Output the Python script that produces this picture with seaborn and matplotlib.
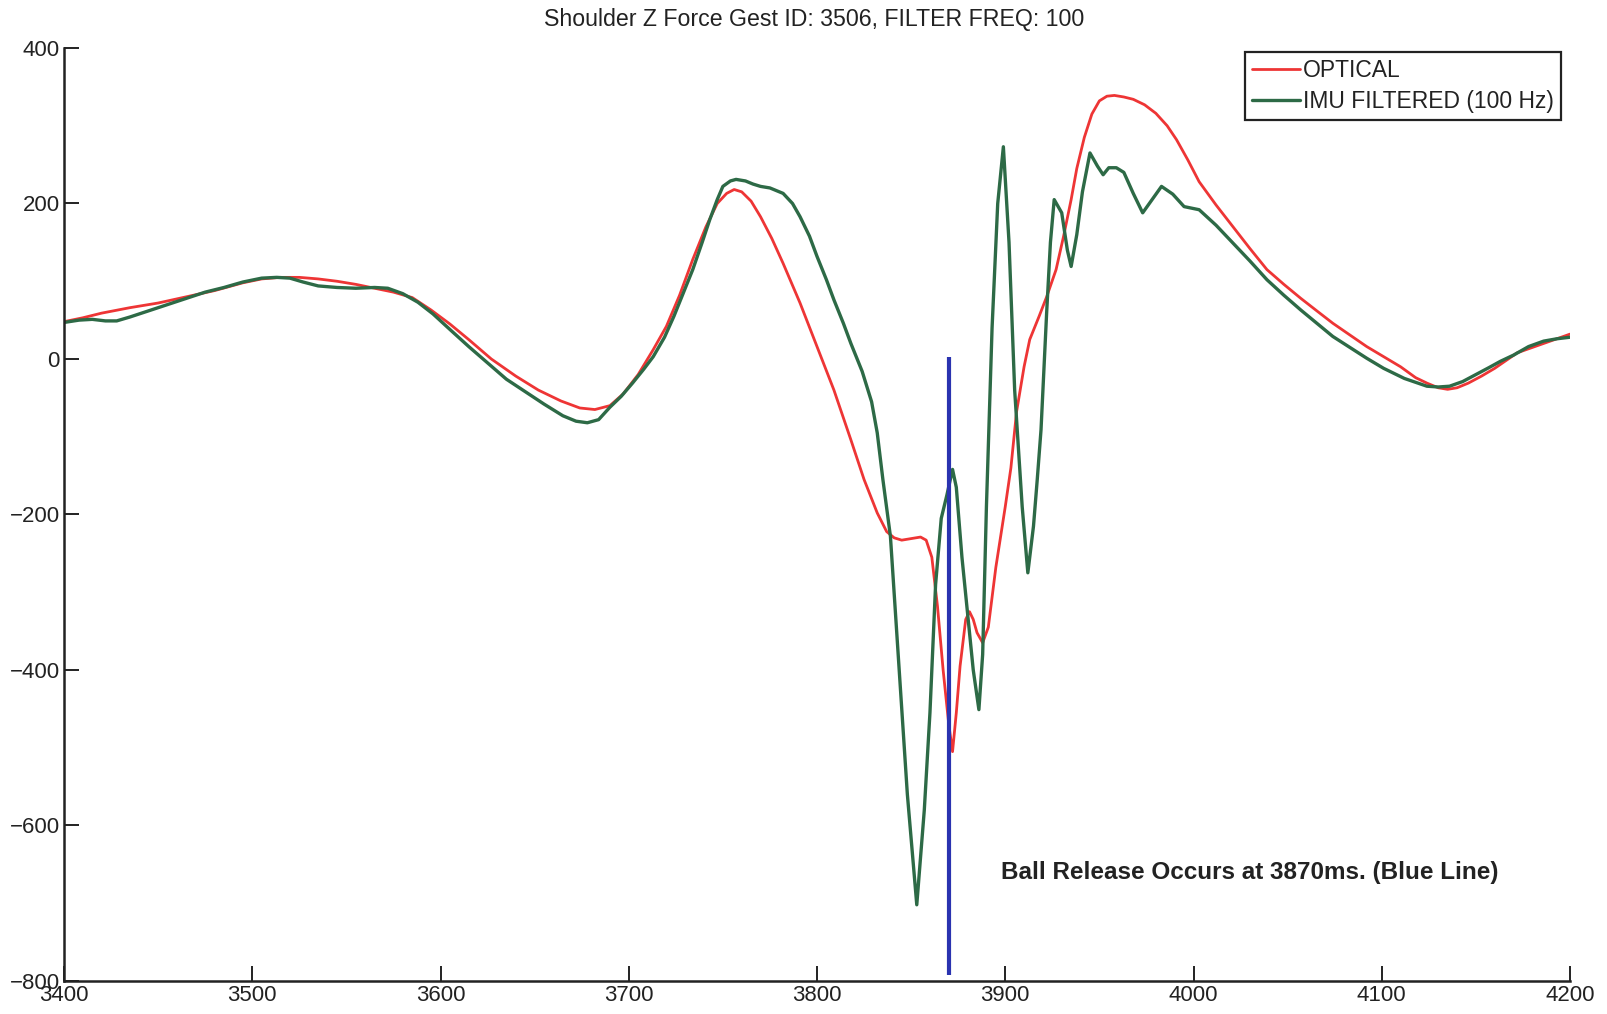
import matplotlib
matplotlib.use("Agg")
import matplotlib.pyplot as plt
import seaborn as sns

# ---- data -----------------------------------------------------------------
optical_t = [3400, 3410, 3420, 3435, 3450, 3465, 3480, 3495, 3505, 3515, 3525, 3535,
             3545, 3555, 3565, 3575, 3585, 3595, 3605, 3615, 3627, 3640, 3652, 3664,
             3674, 3682, 3690, 3697, 3705, 3713, 3720, 3727, 3734, 3741, 3747, 3752,
             3756, 3760, 3765, 3770, 3776, 3782, 3791, 3800, 3809, 3818, 3825, 3832,
             3837, 3841, 3845, 3850, 3855, 3858, 3861, 3864, 3867, 3870, 3872, 3874,
             3876, 3879, 3881, 3883, 3885, 3888, 3891, 3895, 3900, 3903, 3906, 3910,
             3913, 3918, 3922, 3927, 3931, 3935, 3938, 3942, 3946, 3950, 3954, 3958,
             3963, 3968, 3974, 3980, 3986, 3991, 3997, 4003, 4012, 4021, 4030, 4039,
             4048, 4057, 4066, 4074, 4083, 4092, 4101, 4110, 4118, 4124, 4130, 4135,
             4140, 4146, 4153, 4160, 4166, 4172, 4179, 4186, 4193, 4200]
optical_f = [48, 53, 59, 66, 72, 80, 88, 98, 103, 105, 105, 103,
             100, 96, 91, 86, 79, 63, 45, 25, 0, -22, -40, -54,
             -63, -65, -60, -45, -20, 12, 42, 82, 128, 170, 200, 213,
             218, 215, 203, 183, 155, 123, 72, 16, -40, -104, -155, -198,
             -222, -230, -233, -231, -229, -233, -255, -318, -400, -470, -505, -455,
             -395, -335, -325, -335, -352, -365, -345, -268, -190, -140, -68, -10,
             25, 55, 80, 115, 158, 205, 245, 285, 315, 332, 338, 339,
             337, 334, 327, 316, 300, 282, 256, 228, 198, 170, 142, 115,
             96, 78, 61, 46, 31, 16, 3, -10, -24, -31, -37, -39,
             -37, -31, -22, -12, -2, 8, 14, 20, 26, 32]

imu_t = [3400, 3408, 3415, 3422, 3428, 3435, 3445, 3455, 3465, 3475, 3485, 3495,
         3505, 3513, 3520, 3527, 3535, 3545, 3555, 3565, 3572, 3580, 3588, 3596,
         3605, 3615, 3625, 3635, 3645, 3655, 3665, 3672, 3678, 3684, 3690, 3696,
         3702, 3708, 3713, 3719, 3724, 3729, 3734, 3739, 3743, 3747, 3750, 3754,
         3757, 3762, 3766, 3770, 3775, 3782, 3787, 3791, 3796, 3800, 3805, 3809,
         3814, 3818, 3824, 3829, 3832, 3835, 3839, 3844, 3848, 3853, 3857, 3860,
         3863, 3866, 3869, 3872, 3874, 3877, 3880, 3883, 3886, 3888, 3890, 3893,
         3896, 3899, 3902, 3905, 3909, 3912, 3915, 3917, 3919, 3922, 3924, 3926,
         3930, 3933, 3935, 3938, 3941, 3945, 3949, 3952, 3955, 3959, 3963, 3968,
         3973, 3978, 3983, 3989, 3995, 4003, 4012, 4021, 4030, 4039, 4048, 4057,
         4066, 4074, 4083, 4092, 4101, 4112, 4124, 4130, 4136, 4143, 4150, 4157,
         4163, 4170, 4178, 4186, 4193, 4200]
imu_f = [47, 50, 51, 49, 49, 54, 62, 70, 78, 86, 92, 99,
         104, 105, 104, 99, 94, 92, 91, 92, 91, 84, 73, 58,
         38, 16, -5, -26, -42, -58, -73, -80, -82, -78, -62, -48,
         -31, -13, 3, 28, 55, 85, 115, 150, 179, 205, 222, 229,
         231, 229, 225, 222, 220, 213, 200, 183, 158, 132, 102, 76,
         46, 20, -16, -55, -95, -155, -228, -412, -560, -702, -580, -455,
         -290, -205, -175, -142, -165, -255, -327, -400, -451, -380, -190, 40,
         200, 273, 150, -40, -190, -275, -215, -155, -91, 60, 150, 205,
         188, 140, 119, 160, 215, 265, 248, 237, 246, 246, 240, 213,
         188, 205, 222, 212, 196, 192, 172, 149, 126, 102, 82, 63,
         45, 29, 15, 1, -12, -25, -35, -36, -35, -29, -20, -11,
         -3, 5, 16, 23, 26, 28]

release_ms = 3870
release_span = [3, -792]

x_ticks = [3400, 3500, 3600, 3700, 3800, 3900, 4000, 4100, 4200]
y_ticks = [-800, -600, -400, -200, 0, 200, 400]

title = "Shoulder Z Force Gest ID: 3506, FILTER FREQ: 100"
note = "Ball Release Occurs at 3870ms. (Blue Line)"

# ---- style ----------------------------------------------------------------
sns.set_theme(style="ticks")
plt.rcParams['font.family'] = ['Liberation Sans', 'DejaVu Sans']

RED = "#ee3535"
GREEN = "#2d6a46"
BLUE = "#2a33b0"
INK = "#222222"

fig = plt.figure(figsize=(16.08, 10.14), dpi=100)
ax = fig.add_axes([64 / 1608, 1 - 981 / 1014, (1570 - 64) / 1608, (981 - 48) / 1014])

sns.lineplot(x=optical_t, y=optical_f, color=RED, linewidth=2.0, sort=False,
             estimator=None, label="OPTICAL", ax=ax)
sns.lineplot(x=imu_t, y=imu_f, color=GREEN, linewidth=2.4, sort=False,
             estimator=None, label="IMU FILTERED (100 Hz)", ax=ax)
ax.plot([release_ms, release_ms], release_span, color=BLUE, linewidth=3.0,
        solid_capstyle="butt")

ax.set_xlim(x_ticks[0], x_ticks[-1])
ax.set_ylim(y_ticks[0], y_ticks[-1])
ax.set_xticks(x_ticks)
ax.set_yticks(y_ticks)
ax.set_xlabel("")
ax.set_ylabel("")

for side in ("top", "right"):
    ax.spines[side].set_visible(False)
for side in ("left", "bottom"):
    ax.spines[side].set_linewidth(1.8)
    ax.spines[side].set_color(INK)

ax.tick_params(axis="both", direction="in", length=11, width=1.4, color=INK,
               labelsize=16, labelcolor=INK, pad=3)

leg = ax.legend(loc="upper right", bbox_to_anchor=(0.994, 0.996), borderaxespad=0,
                frameon=True, fancybox=False, framealpha=1, edgecolor=INK,
                handlelength=2.1, handletextpad=0.12, borderpad=0.3,
                labelspacing=0.38, fontsize=16.5)
leg.get_frame().set_linewidth(1.6)
for txt in leg.get_texts():
    txt.set_color(INK)

ax.text(3898, -660, note, fontsize=17.5, fontweight="bold", color=INK,
        ha="left", va="center")

fig.text(814 / 1608, 1 - 19.5 / 1014, title, fontsize=16.7, color=INK,
         ha="center", va="center")

fig.savefig("out.png", dpi=100)
